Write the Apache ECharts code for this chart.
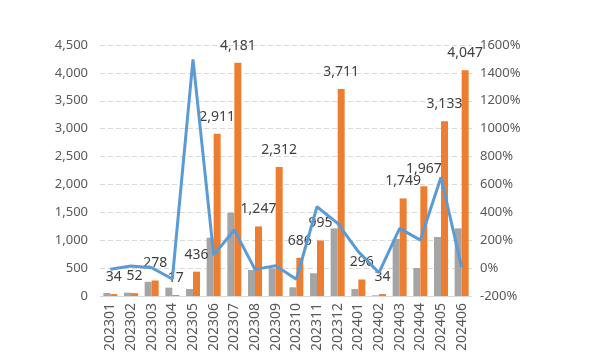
<!DOCTYPE html>
<html>
<head>
<meta charset="utf-8">
<script src="https://cdn.jsdelivr.net/npm/echarts@6/dist/echarts.min.js"></script>
<style>html,body{margin:0;padding:0;background:#fff;}#c{width:600px;height:361px;}</style>
</head>
<body>
<div id="c"></div>
<script>
var categories = ['202301','202302','202303','202304','202305','202306','202307','202308','202309','202310','202311','202312','202401','202402','202403','202404','202405','202406'];
var grayValues = [55, 60, 255, 150, 125, 1045, 1494, 466, 496, 156, 407, 1213, 125, 12, 1022, 502, 1058, 1213];
var orangeValues = [34, 52, 278, 17, 436, 2911, 4181, 1247, 2312, 686, 995, 3711, 296, 34, 1749, 1967, 3133, 4047];
var rateValues = [-8, 15, 3, -78, 1497, 94, 273, -9, 17, -80, 440, 321, 118, -33, 285, 201, 651, 6];
var leftTicks = {min: 0, max: 4500, interval: 500};
var rightTicks = {min: -200, max: 1600, interval: 200};

var font = '"Noto Sans", "DejaVu Sans", sans-serif';
var chart = echarts.init(document.getElementById('c'), null, {renderer: 'canvas'});
chart.setOption({
  animation: false,
  backgroundColor: '#fff',
  grid: {left: 100, right: 128, top: 45, bottom: 65, containLabel: false},
  xAxis: {
    type: 'category',
    data: categories,
    axisLine: {lineStyle: {color: '#D9D9D9', width: 1}},
    axisTick: {show: false},
    axisLabel: {rotate: 90, color: '#595959', fontSize: 14, fontFamily: font, margin: 7, interval: 0}
  },
  yAxis: [{
    type: 'value',
    min: leftTicks.min, max: leftTicks.max, interval: leftTicks.interval,
    axisLine: {show: false}, axisTick: {show: false},
    splitLine: {lineStyle: {color: '#D9D9D9', type: [5, 3]}},
    axisLabel: {color: '#595959', fontSize: 13, fontFamily: font, margin: 12,
      formatter: function(v){ return v.toLocaleString('en-US'); }}
  }, {
    type: 'value',
    min: rightTicks.min, max: rightTicks.max, interval: rightTicks.interval,
    axisLine: {show: false}, axisTick: {show: false},
    splitLine: {show: false},
    axisLabel: {color: '#595959', fontSize: 13, fontFamily: font, margin: 8,
      formatter: function(v){ return String(v) + '%'; }}
  }],
  series: [{
    type: 'bar', data: grayValues, yAxisIndex: 0, barWidth: 7, barGap: '0%',
    itemStyle: {color: '#A5A5A5'}
  }, {
    type: 'bar', data: orangeValues, yAxisIndex: 0, barWidth: 7,
    itemStyle: {color: '#ED7D31'},
    label: {show: true, position: 'top', distance: 10, color: '#404040', fontSize: 14, fontFamily: font,
      formatter: function(p){ return p.value.toLocaleString('en-US'); }}
  }, {
    type: 'line', data: rateValues, yAxisIndex: 1, showSymbol: false, symbol: 'none',
    lineStyle: {color: '#5B9BD5', width: 3}, z: 3
  }]
});
</script>
</body>
</html>
